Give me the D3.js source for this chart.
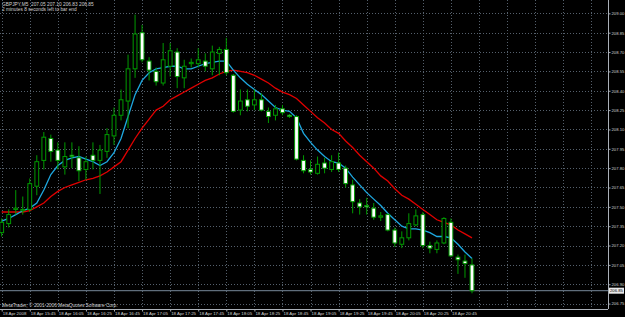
<!DOCTYPE html>
<html>
<head>
<meta charset="utf-8">
<script src="https://cdn.jsdelivr.net/npm/d3@7"></script>
<style>
  html, body { margin: 0; padding: 0; background: #000; }
  svg { display: block; }
</style>
</head>
<body>
<div id="chart"></div>
<script>
// GBPJPY M5, 18 Apr 2008, one entry per bar
var times = ["15:25","15:30","15:35","15:40","15:45","15:50","15:55","16:00","16:05","16:10",
  "16:15","16:20","16:25","16:30","16:35","16:40","16:45","16:50","16:55","17:00",
  "17:05","17:10","17:15","17:20","17:25","17:30","17:35","17:40","17:45","17:50",
  "17:55","18:00","18:05","18:10","18:15","18:20","18:25","18:30","18:35","18:40",
  "18:45","18:50","18:55","19:00","19:05","19:10","19:15","19:20","19:25","19:30",
  "19:35","19:40","19:45","19:50","19:55","20:00","20:05","20:10","20:15","20:20",
  "20:25","20:30","20:35","20:40","20:45","20:50","20:55","21:00"];

var open = [207.30,207.37,207.48,207.47,207.48,207.66,207.86,208.03,207.94,207.81,
  207.90,207.88,207.79,207.90,207.86,207.93,208.05,208.21,208.32,208.57,
  208.85,208.63,208.55,208.46,208.59,208.70,208.50,208.61,208.61,208.63,
  208.57,208.69,208.72,208.52,208.25,208.33,208.29,208.33,208.24,208.21,
  208.26,208.21,208.20,207.86,207.79,207.76,207.84,207.79,207.84,207.80,
  207.67,207.53,207.51,207.49,207.42,207.44,207.32,207.21,207.26,207.36,
  207.44,207.20,207.17,207.22,207.38,207.11,207.08,207.05];
var high = [207.41,207.48,207.63,207.58,207.72,207.90,208.08,208.06,208.00,208.00,
  208.00,207.97,207.89,208.00,207.98,208.11,208.27,208.41,208.68,208.99,
  208.91,208.66,208.58,208.77,208.77,208.73,208.64,208.65,208.73,208.69,
  208.75,208.74,208.81,208.53,208.41,208.41,208.41,208.38,208.27,208.29,
  208.29,208.22,208.21,207.90,207.86,207.89,207.88,207.90,207.92,207.82,
  207.71,207.56,207.57,207.53,207.46,207.45,207.34,207.31,207.45,207.48,
  207.46,207.23,207.24,207.42,207.41,207.13,207.13,207.10];
var low = [207.27,207.34,207.44,207.44,207.46,207.59,207.79,207.85,207.79,207.75,
  207.80,207.70,207.71,207.79,207.60,207.88,207.98,208.17,208.11,208.50,
  208.62,208.48,208.44,208.44,208.51,208.42,208.42,208.58,208.58,208.55,
  208.52,208.52,208.52,208.23,208.21,208.24,208.25,208.24,208.15,208.17,
  208.21,208.19,207.86,207.76,207.75,207.75,207.76,207.77,207.77,207.65,
  207.45,207.44,207.44,207.40,207.39,207.31,207.19,207.18,207.24,207.35,
  207.18,207.14,207.14,207.21,207.11,206.98,206.95,206.83];
var close = [207.38,207.44,207.49,207.48,207.68,207.85,208.04,207.93,207.86,207.89,
  207.89,207.78,207.85,207.86,207.94,208.06,208.21,208.33,208.57,208.84,
  208.64,208.56,208.47,208.64,208.71,208.51,208.59,208.62,208.64,208.59,
  208.70,208.72,208.54,208.24,208.32,208.28,208.33,208.25,208.20,208.26,
  208.23,208.20,207.87,207.78,207.77,207.83,207.80,207.85,207.79,207.68,
  207.54,207.50,207.50,207.42,207.43,207.32,207.22,207.26,207.37,207.43,
  207.20,207.18,207.22,207.41,207.12,207.09,207.06,206.85];

// moving averages
var maSlow = [207.46,207.46,207.46,207.46,207.47,207.50,207.53,207.58,207.62,207.65,
  207.67,207.69,207.71,207.72,207.74,207.77,207.81,207.85,207.94,208.03,
  208.11,208.18,208.25,208.28,208.33,208.36,208.39,208.42,208.45,208.48,
  208.50,208.53,208.55,208.56,208.55,208.54,208.52,208.49,208.46,208.42,
  208.39,208.37,208.34,208.29,208.24,208.19,208.15,208.10,208.07,208.01,
  207.96,207.90,207.85,207.80,207.74,207.70,207.64,207.59,207.56,207.52,
  207.48,207.44,207.40,207.38,207.36,207.32,207.29,207.26];
var maFast = [207.39,207.41,207.44,207.47,207.49,207.53,207.63,207.75,207.82,207.86,
  207.88,207.89,207.87,207.85,207.82,207.85,207.92,208.03,208.20,208.37,
  208.48,208.54,208.57,208.58,208.59,208.59,208.57,208.57,208.59,208.61,
  208.62,208.63,208.63,208.56,208.50,208.45,208.41,208.37,208.32,208.27,
  208.25,208.24,208.19,208.07,208.00,207.94,207.89,207.85,207.84,207.80,
  207.73,207.67,207.61,207.56,207.51,207.45,207.40,207.35,207.33,207.33,
  207.32,207.30,207.27,207.27,207.26,207.21,207.15,207.10];

var priceTicks = [209.00,208.85,208.70,208.55,208.40,208.25,208.10,207.95,
  207.80,207.65,207.50,207.35,207.20,207.05,206.90,206.75];
var timeTickIdx = [0,4,8,12,16,20,24,28,32,36,40,44,48,52,56,60,64];
var timeTickLabels = ["18 Apr 2008","18 Apr 15:45","18 Apr 16:05","18 Apr 16:25","18 Apr 16:45",
  "18 Apr 17:05","18 Apr 17:25","18 Apr 17:45","18 Apr 18:05","18 Apr 18:25","18 Apr 18:45",
  "18 Apr 19:05","18 Apr 19:25","18 Apr 19:45","18 Apr 20:05","18 Apr 20:25","18 Apr 20:45"];

var bid = 206.85;
var titleLine = "GBPJPY,M5  207.05 207.10 206.83 206.85";
var timerLine = "2 minutes 8 seconds left to bar end";
var copyright = "MetaTrader, \u00a9 2001-2006 MetaQuotes Software Corp.";

var width = 625, height = 317;
var plotRight = 608, plotBottom = 309;
var fontFam = "'Liberation Sans', Arial, sans-serif";
var green = "#009a00", gridCol = "#55606c", textCol = "#d0d0d0";

var svg = d3.select("#chart").append("svg")
    .attr("width", width)
    .attr("height", height)
    .style("background", "#000");

var x = d3.scaleLinear().domain([0, 67]).range([1.7, 472]);
var y = d3.scaleLinear().domain([206.75, 209.00]).range([303.6, 13.35]);

// grid
var gridIdx = d3.range(0, 90, 4).filter(function (i) { return x(i) < plotRight; });
svg.append("g").selectAll("line.v")
    .data(gridIdx).enter().append("line")
    .attr("x1", function (i) { return Math.round(x(i)) + 0.5; })
    .attr("x2", function (i) { return Math.round(x(i)) + 0.5; })
    .attr("y1", 0).attr("y2", plotBottom)
    .attr("stroke", gridCol).attr("stroke-dasharray", "1,2");
svg.append("g").selectAll("line.h")
    .data(priceTicks).enter().append("line")
    .attr("x1", 0).attr("x2", plotRight)
    .attr("y1", function (d) { return Math.round(y(d)) + 0.5; })
    .attr("y2", function (d) { return Math.round(y(d)) + 0.5; })
    .attr("stroke", gridCol).attr("stroke-dasharray", "1,2");

// bid line
svg.append("line")
    .attr("x1", 0).attr("x2", plotRight)
    .attr("y1", y(bid)).attr("y2", y(bid))
    .attr("stroke", "#778899").attr("stroke-width", 1);

// moving averages
var line = d3.line()
    .x(function (d, i) { return x(i); })
    .y(function (d) { return y(d); });
svg.append("path").datum(maSlow)
    .attr("d", line).attr("fill", "none")
    .attr("stroke", "#e00000").attr("stroke-width", 1.3);
svg.append("path").datum(maFast)
    .attr("d", line).attr("fill", "none")
    .attr("stroke", "#1ea8e0").attr("stroke-width", 1.3);

// candles
var bars = svg.append("g").selectAll("g")
    .data(times).enter().append("g");
bars.append("line")
    .attr("x1", function (d, i) { return x(i); })
    .attr("x2", function (d, i) { return x(i); })
    .attr("y1", function (d, i) { return y(high[i]); })
    .attr("y2", function (d, i) { return y(low[i]); })
    .attr("stroke", green).attr("stroke-width", 1);
bars.append("rect")
    .attr("x", function (d, i) { return x(i) - 1.9; })
    .attr("width", 3.8)
    .attr("y", function (d, i) { return y(Math.max(open[i], close[i])); })
    .attr("height", function (d, i) { return Math.max(1, Math.abs(y(open[i]) - y(close[i]))); })
    .attr("fill", function (d, i) { return close[i] < open[i] ? "#ffffff" : "#000000"; })
    .attr("stroke", green).attr("stroke-width", 1);

// borders
svg.append("line").attr("x1", plotRight + 0.5).attr("x2", plotRight + 0.5)
    .attr("y1", 0).attr("y2", plotBottom).attr("stroke", "#aab0b8");
svg.append("line").attr("x1", 0).attr("x2", plotRight)
    .attr("y1", plotBottom + 0.5).attr("y2", plotBottom + 0.5).attr("stroke", "#aab0b8");

// price axis
var yAxis = svg.append("g")
    .attr("transform", "translate(" + (plotRight + 0.5) + ",0)")
    .call(d3.axisRight(y).tickValues(priceTicks).tickSize(2).tickPadding(1)
        .tickFormat(d3.format(".2f")))
    .attr("font-family", fontFam).attr("font-size", 4.2);
yAxis.select(".domain").remove();
yAxis.selectAll("line").attr("stroke", "#aab0b8");
yAxis.selectAll("text").attr("fill", textCol);

// bid label
svg.append("rect")
    .attr("x", plotRight + 1).attr("y", y(bid) - 3)
    .attr("width", 15).attr("height", 6)
    .attr("fill", "#e8e8e8");
svg.append("text")
    .attr("x", plotRight + 2).attr("y", y(bid))
    .attr("dy", "0.35em")
    .attr("font-family", fontFam).attr("font-size", 4.2)
    .attr("fill", "#000").text(bid.toFixed(2));

// time axis
var xAxis = svg.append("g")
    .attr("transform", "translate(0," + (plotBottom + 0.5) + ")")
    .call(d3.axisBottom(x).tickValues(timeTickIdx).tickSize(2).tickPadding(0.5)
        .tickFormat(function (d) { return timeTickLabels[timeTickIdx.indexOf(d)]; }))
    .attr("font-family", fontFam).attr("font-size", 4.4);
xAxis.select(".domain").remove();
xAxis.selectAll("line").attr("stroke", "#aab0b8");
xAxis.selectAll("text").attr("fill", textCol)
    .attr("text-anchor", "start").attr("x", 0.5);

// texts
svg.append("text").attr("x", 2).attr("y", 6)
    .attr("font-family", fontFam).attr("font-size", 4.8)
    .attr("fill", textCol).attr("xml:space", "preserve").text(titleLine);
svg.append("text").attr("x", 2).attr("y", 11.3)
    .attr("font-family", fontFam).attr("font-size", 4.8)
    .attr("fill", textCol).text(timerLine);
svg.append("text").attr("x", 2).attr("y", 306.5)
    .attr("font-family", fontFam).attr("font-size", 4.8)
    .attr("fill", textCol).text(copyright);
</script>
</body>
</html>
